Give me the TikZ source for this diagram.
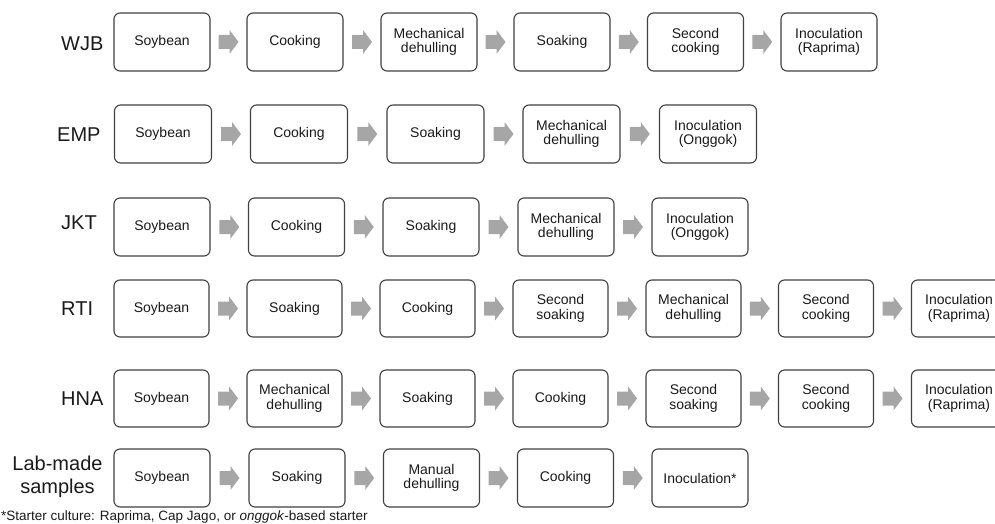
\documentclass[tikz,border=0pt]{standalone}
\usepackage{fontspec}
\setmainfont{Liberation Sans}
\usetikzlibrary{calc}
\definecolor{boxline}{HTML}{404040}
\definecolor{arrowgray}{HTML}{A6A6A6}
\definecolor{txt}{HTML}{1A1A1A}
\tikzset{
  stepbox/.style={draw=boxline, line width=1.1pt, rounded corners=6pt, fill=white,
    minimum width=96pt, minimum height=58pt, inner sep=0pt, align=center,
    font=\fontsize{14}{14.5}\selectfont, text=txt},
  rowlabel/.style={font=\fontsize{20}{23}\selectfont, text=txt, inner sep=0pt, align=center},
  blockfill/.style={fill=arrowgray, draw=none}
}
\newcommand{\blockarrow}[2]{%
  \path ($(#1.east)!0.5!(#2.west)$) coordinate (m#1#2);
  \fill[blockfill] ([shift={(-10,-7)}]m#1#2) -- ++(11,0) -- ++(0,-5) -- ++(9,12) -- ++(-9,12) -- ++(0,-5) -- ++(-11,0) -- cycle;
}
\begin{document}
\begin{tikzpicture}[x=1pt,y=-1pt]
\useasboundingbox (0,0) rectangle (995,524);
% labels
\node[rowlabel, anchor=west] (lw) at (61,44) {WJB};
\node[rowlabel, anchor=west] (le) at (57,134.5) {EMP};
\node[rowlabel, anchor=west] (lj) at (61,223) {JKT};
\node[rowlabel, anchor=west] (lr) at (61,308.5) {RTI};
\node[rowlabel, anchor=west] (lh) at (61,399) {HNA};
\node[rowlabel] (ll) at (57.5,477) {Lab-made\\samples};
% WJB
\node[stepbox] (w1) at (162,42) {Soybean};
\node[stepbox] (w2) at (295,42) {Cooking};
\node[stepbox] (w3) at (429,42) {Mechanical\\dehulling};
\node[stepbox] (w4) at (562,42) {Soaking};
\node[stepbox] (w5) at (695.5,42) {Second\\cooking};
\node[stepbox] (w6) at (829,42) {Inoculation\\(Raprima)};
% EMP
\node[stepbox, minimum width=97pt] (e1) at (163,134) {Soybean};
\node[stepbox, minimum width=97pt] (e2) at (299,134) {Cooking};
\node[stepbox, minimum width=97pt] (e3) at (435.5,134) {Soaking};
\node[stepbox, minimum width=97pt] (e4) at (571.5,134) {Mechanical\\dehulling};
\node[stepbox, minimum width=97pt] (e5) at (708,134) {Inoculation\\(Onggok)};
% JKT
\node[stepbox] (j1) at (162,227) {Soybean};
\node[stepbox] (j2) at (296.5,227) {Cooking};
\node[stepbox] (j3) at (431,227) {Soaking};
\node[stepbox] (j4) at (566,227) {Mechanical\\dehulling};
\node[stepbox] (j5) at (700,227) {Inoculation\\(Onggok)};
% RTI
\node[stepbox, minimum width=95pt, minimum height=57pt] (r1) at (161.5,308.5) {Soybean};
\node[stepbox, minimum width=95pt, minimum height=57pt] (r2) at (294.5,308.5) {Soaking};
\node[stepbox, minimum width=95pt, minimum height=57pt] (r3) at (427.5,308.5) {Cooking};
\node[stepbox, minimum width=95pt, minimum height=57pt] (r4) at (560.5,308.5) {Second\\soaking};
\node[stepbox, minimum width=95pt, minimum height=57pt] (r5) at (693.5,308.5) {Mechanical\\dehulling};
\node[stepbox, minimum width=95pt, minimum height=57pt] (r6) at (826,308.5) {Second\\cooking};
\node[stepbox, minimum width=95pt, minimum height=57pt] (r7) at (959,308.5) {Inoculation\\(Raprima)};
% HNA
\node[stepbox, minimum width=95pt, minimum height=57pt] (h1) at (161.5,398.5) {Soybean};
\node[stepbox, minimum width=95pt, minimum height=57pt] (h2) at (294.5,398.5) {Mechanical\\dehulling};
\node[stepbox, minimum width=95pt, minimum height=57pt] (h3) at (427.5,398.5) {Soaking};
\node[stepbox, minimum width=95pt, minimum height=57pt] (h4) at (560.5,398.5) {Cooking};
\node[stepbox, minimum width=95pt, minimum height=57pt] (h5) at (693.5,398.5) {Second\\soaking};
\node[stepbox, minimum width=95pt, minimum height=57pt] (h6) at (826,398.5) {Second\\cooking};
\node[stepbox, minimum width=95pt, minimum height=57pt] (h7) at (959,398.5) {Inoculation\\(Raprima)};
% Lab-made
\node[stepbox] (b1) at (162,478) {Soybean};
\node[stepbox] (b2) at (297,478) {Soaking};
\node[stepbox] (b3) at (431.5,478) {Manual\\dehulling};
\node[stepbox] (b4) at (565.5,478) {Cooking};
\node[stepbox] (b5) at (700,478) {Inoculation*};
% arrows
\foreach \p/\q in {w1/w2,w2/w3,w3/w4,w4/w5,w5/w6,
  e1/e2,e2/e3,e3/e4,e4/e5,
  j1/j2,j2/j3,j3/j4,j4/j5,
  r1/r2,r2/r3,r3/r4,r4/r5,r5/r6,r6/r7,
  h1/h2,h2/h3,h3/h4,h4/h5,h5/h6,h6/h7,
  b1/b2,b2/b3,b3/b4,b4/b5}{\blockarrow{\p}{\q}}
% footnote
\node[anchor=west, inner sep=0pt, font=\fontsize{13.5}{15}\selectfont, text=txt] (fn) at (1,517)
  {*Starter culture: Raprima, Cap Jago, or \textit{onggok}-based starter};
\end{tikzpicture}
\end{document}
